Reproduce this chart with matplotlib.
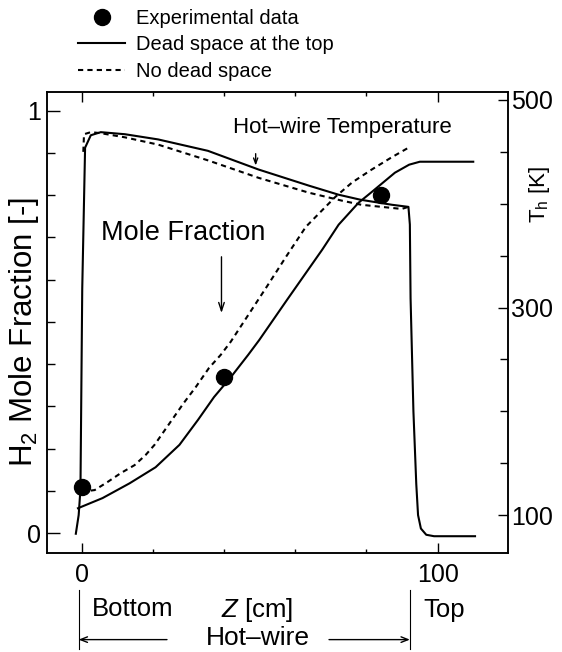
import matplotlib
matplotlib.use("Agg")
import matplotlib.pyplot as plt
import matplotlib.transforms as mtransforms
from matplotlib.lines import Line2D
from matplotlib.ticker import FixedLocator, MultipleLocator

plt.rcParams['font.family'] = ['Liberation Sans', 'DejaVu Sans']
plt.rcParams['mathtext.fontset'] = 'custom'
plt.rcParams['mathtext.rm'] = 'Liberation Sans'
plt.rcParams['mathtext.it'] = 'Liberation Sans:italic'
plt.rcParams['mathtext.default'] = 'regular'

# experimental H2 mole fraction
z_exp = [0, 40, 84]
x_exp = [0.11, 0.37, 0.80]

# H2 mole fraction, dead space at the top (solid)
z_mf_dead = [-1.0, 5.9, 13.5, 20.8, 27.5, 32.7, 37.2, 42.0, 46.8, 49.9, 57.7,
             67.6, 72.2, 77.8, 81.3, 88.0, 92.0, 95.0, 110.0]
mf_dead = [0.059, 0.083, 0.118, 0.156, 0.209, 0.268, 0.322, 0.370, 0.422, 0.457,
           0.552, 0.671, 0.730, 0.782, 0.806, 0.853, 0.872, 0.879, 0.879]

# H2 mole fraction, no dead space (dashed)
z_mf_nodead = [0, 3.7, 7.3, 11.0, 14.9, 18.0, 20.5, 28.7, 32.1, 35.8, 39.1, 41.9,
               52.0, 57.5, 63.0, 71.3, 76.0, 81.4, 87.0, 92.4]
mf_nodead = [0.098, 0.102, 0.121, 0.142, 0.161, 0.185, 0.209, 0.308, 0.346, 0.391,
             0.422, 0.453, 0.583, 0.655, 0.725, 0.796, 0.830, 0.860, 0.889, 0.915]

# hot-wire temperature [K], dead space at the top (solid)
z_T_dead = [-1.6, -0.8, -0.3, 0.2, 1.0, 2.6, 5.4, 12.2, 21.5, 35.5, 49.7, 63.8,
            72.2, 78.3, 87.2, 91.8, 92.2, 92.4, 93.2, 94.0, 94.5, 95.3, 96.8,
            99.0, 110.5]
T_dead = [82, 100, 125, 318, 454, 466, 469, 467, 462, 451, 433, 417.5, 408.7,
          403.9, 399, 397, 380, 309, 200, 130, 100, 87, 81, 79.6, 79.6]

# hot-wire temperature [K], no dead space (dashed)
z_T_nodead = [0.5, 0.7, 2.6, 5.4, 12.2, 21.5, 35.6, 49.7, 63.8, 73.1, 78.6,
              87.1, 89.9, 91.8]
T_nodead = [450, 467, 469, 468, 464, 457, 441.7, 425, 410.7, 403, 399, 396,
            395, 397]

dash = (0, (2.5, 2))

fig = plt.figure(figsize=(5.62, 6.52), dpi=100)
ax = fig.add_axes([0.0836, 0.1518, 0.8212, 0.7071])
ax2 = ax.twinx()

ax.plot(z_mf_dead, mf_dead, color='k', lw=1.5)
ax.plot(z_mf_nodead, mf_nodead, color='k', lw=1.5, ls=dash)
ax2.plot(z_T_dead, T_dead, color='k', lw=1.5)
ax2.plot(z_T_nodead, T_nodead, color='k', lw=1.5, ls=dash)
ax.plot(z_exp, x_exp, 'o', color='k', ms=11.5, zorder=5)

ax.set_xlim(-9.7, 119.9)
ax.set_ylim(-0.047, 1.044)
ax2.set_ylim(63.4, 507.7)

ax.xaxis.set_major_locator(FixedLocator([0, 100]))
ax.xaxis.set_minor_locator(FixedLocator([20, 40, 60, 80]))
ax.yaxis.set_major_locator(FixedLocator([0, 1]))
ax.yaxis.set_minor_locator(MultipleLocator(0.1))
ax2.yaxis.set_major_locator(FixedLocator([100, 300, 500]))
ax2.yaxis.set_minor_locator(MultipleLocator(50))

ax.tick_params(axis='both', which='both', direction='in', top=True, right=False, width=1)
ax.tick_params(axis='y', which='major', length=9, pad=4, labelsize=18)
ax.tick_params(axis='y', which='minor', length=5.5)
ax.tick_params(axis='x', which='major', length=7, pad=7, labelsize=18)
ax.tick_params(axis='x', which='minor', length=3)
ax2.tick_params(axis='y', which='both', direction='in', width=1)
ax2.tick_params(axis='y', which='major', length=7, pad=2, labelsize=18)
ax2.tick_params(axis='y', which='minor', length=5.5)

for a in (ax, ax2):
    for s in a.spines.values():
        s.set_linewidth(1.1)

ax.set_ylabel('H$_2$ Mole Fraction [-]', fontsize=22.5)
ax.yaxis.set_label_coords(-0.013, 0.48)
ax2.set_ylabel('T$_h$ [K]', fontsize=16)
ax2.yaxis.set_label_coords(1.040, 0.777)
ax.set_xlabel(r'$\mathit{Z}$ [cm]', fontsize=18.5)
ax.xaxis.set_label_coords(0.455, -0.093)

# in-plot annotations
ax.text(28.5, 0.711, 'Mole Fraction', fontsize=19.5, ha='center', va='center')
ax.annotate('', xy=(39.3, 0.521), xytext=(39.3, 0.654),
            arrowprops=dict(arrowstyle='->, head_length=0.6, head_width=0.2',
                            lw=1, color='k', shrinkA=0, shrinkB=0))
ax.text(73.3, 0.96, 'Hot\u2013wire Temperature', fontsize=16, ha='center', va='center')
ax.annotate('', xy=(48.9, 0.870), xytext=(48.9, 0.898),
            arrowprops=dict(arrowstyle='->, head_length=0.4, head_width=0.15',
                            lw=1, color='k', shrinkA=0, shrinkB=0))

# hot-wire extent below the axis
trans = mtransforms.blended_transform_factory(ax.transData, fig.transFigure)
ax.text(14.5, 0.066, 'Bottom', transform=trans, fontsize=18.5, ha='center', va='center')
ax.text(101.8, 0.064, 'Top', transform=trans, fontsize=18.5, ha='center', va='center')
ax.text(49.5, 0.022, 'Hot\u2013wire', transform=trans, fontsize=19, ha='center', va='center')
for zz in (-0.8, 92.2):
    fig.add_artist(Line2D([zz, zz], [0.095, 0.004], transform=trans, color='k', lw=0.8))
ax.annotate('', xy=(-0.8, 0.019), xytext=(24.0, 0.019), xycoords=trans, textcoords=trans,
            annotation_clip=False,
            arrowprops=dict(arrowstyle='->, head_length=0.5, head_width=0.2',
                            lw=1, color='k', shrinkA=0, shrinkB=0))
ax.annotate('', xy=(92.2, 0.019), xytext=(69.5, 0.019), xycoords=trans, textcoords=trans,
            annotation_clip=False,
            arrowprops=dict(arrowstyle='->, head_length=0.5, head_width=0.2',
                            lw=1, color='k', shrinkA=0, shrinkB=0))

handles = [Line2D([], [], ls='none', marker='o', ms=11.5, color='k'),
           Line2D([], [], color='k', lw=1.5),
           Line2D([], [], color='k', lw=1.5, ls=dash)]
labels = ['Experimental data', 'Dead space at the top', 'No dead space']
fig.legend(handles, labels, loc='upper left', bbox_to_anchor=(78 / 562, 0.986),
           frameon=False, fontsize=14.5, handlelength=2.34, handletextpad=0.55,
           labelspacing=0.36, borderpad=0, borderaxespad=0)

fig.savefig('out.png', dpi=100)
